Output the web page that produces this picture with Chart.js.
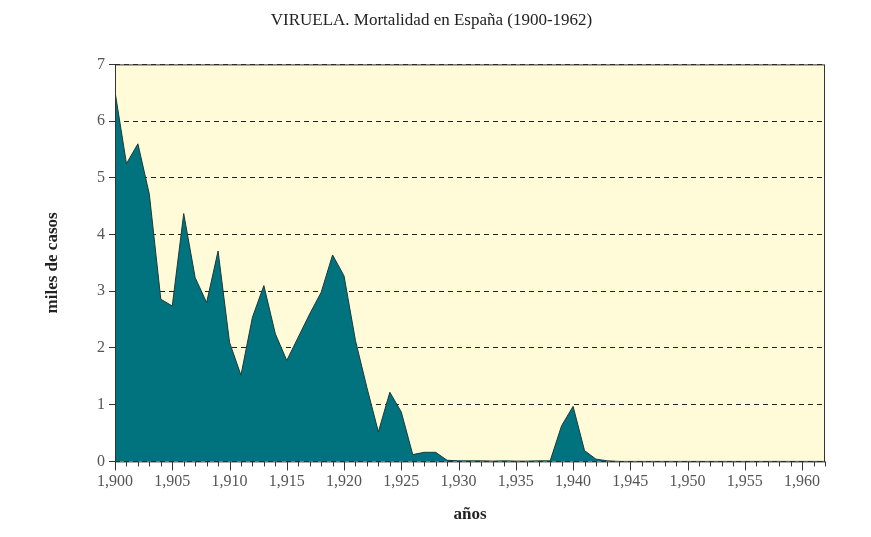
<!DOCTYPE html>
<html><head><meta charset="utf-8">
<script src="https://cdn.jsdelivr.net/npm/chart.js@4"></script>
<style>body{margin:0;background:#fff}#w{width:871px;height:537px}</style>
</head><body><div id="w"><canvas id="c"></canvas></div>
<script>
const years = [];
for (let y = 1900; y <= 1962; y++) years.push(y);
const deaths = [6.52,5.25,5.6,4.71,2.86,2.74,4.37,3.24,2.8,3.71,
2.1,1.52,2.54,3.1,2.25,1.78,2.19,2.6,2.98,3.64,
3.27,2.13,1.3,0.52,1.22,0.87,0.12,0.16,0.16,0.02,
0.01,0.01,0.01,0.005,0.01,0.005,0.005,0.01,0.01,0.63,
0.97,0.19,0.04,0.01,0,0,0,0,0,0,
0,0,0,0,0,0,0,0,0,0,0,0,0];
const yTicks = [0,1,2,3,4,5,6,7];
const xTicks = [1900,1905,1910,1915,1920,1925,1930,1935,1940,1945,1950,1955,1960];
const FONT = "'Liberation Serif', serif";
const pts = years.map((y,i)=>({x:y,y:deaths[i]}));
const bg = {id:'bg',beforeDraw(ch){const a=ch.chartArea,c=ch.ctx;c.save();c.fillStyle='#fffbd8';c.fillRect(a.left,a.top,a.right-a.left,a.bottom-a.top);c.restore();},
afterDraw(ch){const a=ch.chartArea,c=ch.ctx,x=ch.scales.x;c.save();c.strokeStyle='#333';c.lineWidth=1;c.strokeRect(a.left+0.5,a.top+0.5,a.right-a.left-1,a.bottom-a.top);
c.beginPath();for(let y=1900;y<=1962;y++){const px=Math.round(x.getPixelForValue(y))+0.5;const L=y%5===0?9:5;c.moveTo(px,a.bottom);c.lineTo(px,a.bottom+L);}c.stroke();c.restore();}};
new Chart(document.getElementById('c'),{type:'line',
data:{datasets:[{data:pts,fill:'origin',backgroundColor:'#00737f',borderColor:'#1a3a3a',borderWidth:1,pointRadius:0,tension:0}]},
options:{responsive:true,maintainAspectRatio:false,animation:false,
layout:{padding:{top:0,right:46,bottom:8,left:38}},
plugins:{legend:{display:false},tooltip:{enabled:false},
title:{display:true,text:'VIRUELA. Mortalidad en España (1900-1962)',color:'#222',font:{family:FONT,size:17,weight:'normal'},padding:{top:10,bottom:34}}},
scales:{
x:{type:'linear',min:1900,max:1962,afterBuildTicks(s){s.ticks=xTicks.map(v=>({value:v}));},grid:{display:false,drawTicks:false},border:{display:false},
ticks:{autoSkip:false,color:'#555',font:{family:FONT,size:16},padding:11,maxRotation:0},
title:{display:true,text:'años',color:'#222',font:{family:FONT,size:17,weight:'bold'},padding:{top:2}}},
y:{min:0,max:7,afterBuildTicks(s){s.ticks=yTicks.map(v=>({value:v}));},afterFit(s){s.width=77;},
grid:{color:'#222',lineWidth:1,drawTicks:true,tickLength:6,tickColor:'#333'},border:{display:false,dash:[5,4]},
ticks:{color:'#555',font:{family:FONT,size:16},padding:4},
title:{display:true,text:'miles de casos',color:'#222',font:{family:FONT,size:17,weight:'bold'},padding:{bottom:0}}}}},
plugins:[bg]});
</script></body></html>
